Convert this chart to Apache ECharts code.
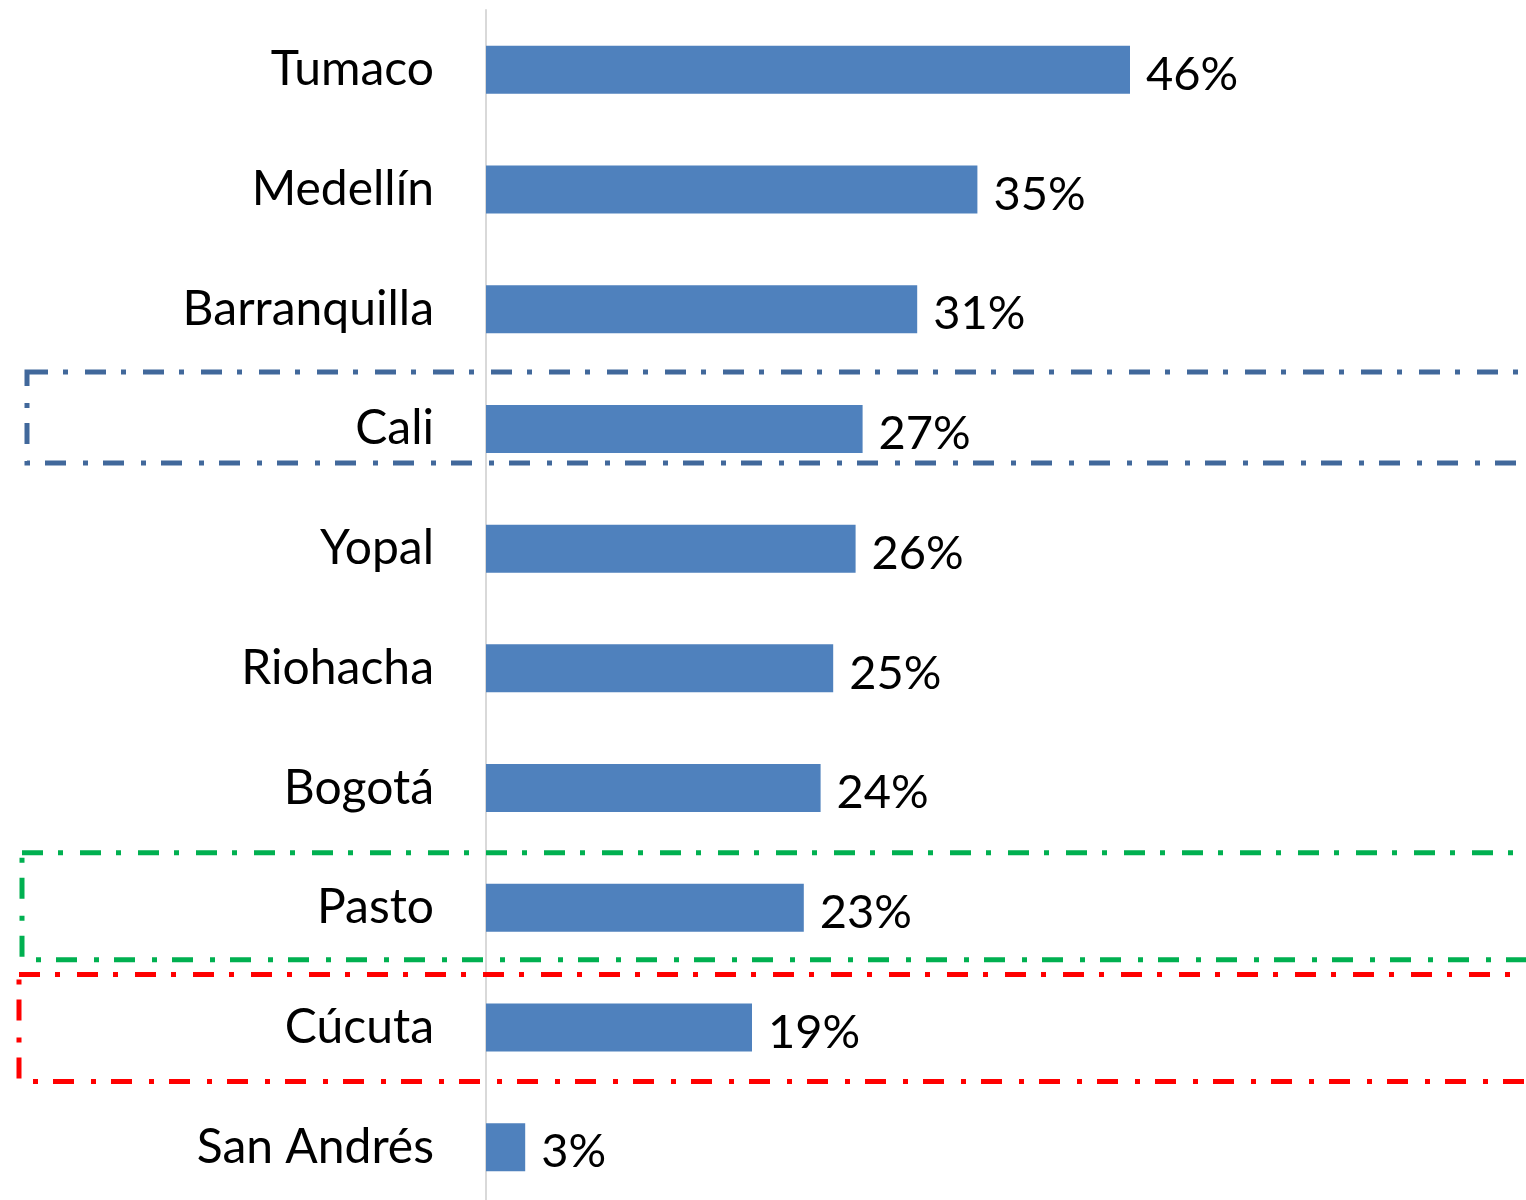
<!DOCTYPE html>
<html>
<head>
<meta charset="utf-8">
<script src="https://cdn.jsdelivr.net/npm/echarts@6/dist/echarts.min.js"></script>
<style>
  html, body { margin: 0; padding: 0; background: #fff; overflow: hidden; }
  /* la última fila sigue un poco más abajo del borde, como en el original */
  #main { width: 1526px; height: 1207px; }
</style>
</head>
<body>
<div id="main"></div>
<script>
// ciudades, de arriba a abajo
var cities = ['Tumaco', 'Medellín', 'Barranquilla', 'Cali', 'Yopal', 'Riohacha', 'Bogotá', 'Pasto', 'Cúcuta', 'San Andrés'];
var values = [46, 35.1, 30.8, 26.9, 26.4, 24.8, 23.9, 22.7, 19, 2.8];

// recuadros punteados alrededor de estas ciudades
var boxCities = ['Cali', 'Pasto', 'Cúcuta'];
var boxColors = ['#41689b', '#00b050', '#ff0000'];

var fontFam = 'Lato, "Open Sans", sans-serif';

var chart = echarts.init(document.getElementById('main'));

var option = {
    animation: false,
    grid: {
        left: 486,
        top: 10,
        right: 4,
        bottom: 0
    },
    xAxis: {
        type: 'value',
        min: 0,
        max: 74,
        show: false
    },
    yAxis: {
        type: 'category',
        data: cities,
        inverse: true,
        axisLine: { show: true, lineStyle: { color: '#d9d9d9', width: 2 } },
        axisTick: { show: false },
        axisLabel: {
            margin: 52,
            fontSize: 48,
            fontFamily: fontFam,
            color: '#000'
        }
    },
    series: [{
        type: 'bar',
        data: values,
        barWidth: 48,
        itemStyle: { color: '#4f81bd' },
        label: {
            show: true,
            position: 'right',
            distance: 16,
            offset: [0, 5],
            fontSize: 47,
            fontFamily: fontFam,
            color: '#000',
            formatter: function (p) { return Math.round(p.value) + '%'; }
        }
    }]
};
chart.setOption(option);

// recuadros alrededor de Cali, Pasto y Cúcuta
function drawBoxes(){
    // [arriba, abajo, izquierda] respecto al centro de la fila
    var offs = [[-57, 34, 27], [-55, 52, 22], [-53, 54, 19]];
    var els = [];
    for (var i = 0; i < boxCities.length; i++) {
        var cy = chart.convertToPixel({ yAxisIndex: 0 }, boxCities[i]);
        var top = cy + offs[i][0];
        var bot = cy + offs[i][1];
        els.push({
            type: 'rect',
            shape: { x: offs[i][2], y: top, width: 1540, height: bot - top },
            style: {
                fill: null,
                stroke: boxColors[i],
                lineWidth: 5,
                lineDash: [21, 15, 5, 17]
            },
            z: 10
        });
    }
    chart.setOption({ graphic: els });
}
drawBoxes();
</script>
</body>
</html>
